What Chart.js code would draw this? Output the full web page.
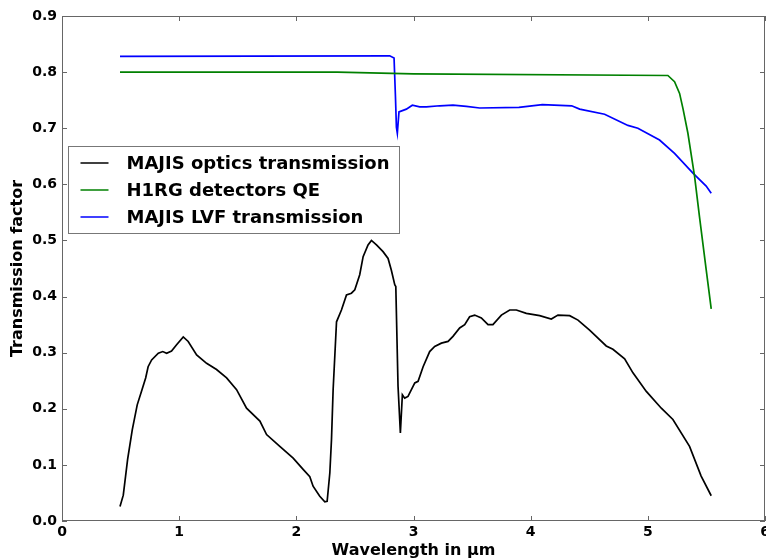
<!DOCTYPE html>
<html>
<head>
<meta charset="utf-8">
<style>
  html, body { margin: 0; padding: 0; background: #fff; }
  #wrap { width: 766px; height: 560px; }
</style>
</head>
<body>
<div id="wrap"><canvas id="chart" width="766" height="560"></canvas></div>
<script src="https://cdn.jsdelivr.net/npm/chart.js"></script>
<script>
// MAJIS optics transmission (wavelength in µm, transmission)
const opticsWl = [0.495, 0.523, 0.56, 0.60, 0.642, 0.68, 0.714, 0.735, 0.765, 0.822, 0.86, 0.893, 0.935, 0.978,
  1.035, 1.077, 1.149, 1.234, 1.319, 1.405, 1.49, 1.575, 1.689, 1.746, 1.859, 1.973, 2.058, 2.115, 2.143,
  2.20, 2.243, 2.263, 2.286, 2.30, 2.314, 2.343, 2.385, 2.428, 2.47, 2.499, 2.541, 2.57, 2.612, 2.641, 2.684,
  2.74, 2.783, 2.811, 2.84, 2.849, 2.868, 2.888, 2.905, 2.925, 2.953, 3.011, 3.039, 3.082, 3.138, 3.181,
  3.238, 3.295, 3.337, 3.394, 3.437, 3.479, 3.522, 3.579, 3.636, 3.678, 3.75, 3.821, 3.878, 3.963, 4.077,
  4.176, 4.233, 4.333, 4.404, 4.503, 4.645, 4.702, 4.802, 4.873, 4.987, 5.115, 5.214, 5.356, 5.455, 5.541];
const opticsT = [0.026, 0.046, 0.11, 0.163, 0.207, 0.232, 0.255, 0.275, 0.287, 0.299, 0.302, 0.299, 0.303, 0.314,
  0.328, 0.320, 0.296, 0.281, 0.270, 0.255, 0.234, 0.201, 0.178, 0.154, 0.133, 0.112, 0.092, 0.079, 0.062,
  0.044, 0.034, 0.035, 0.086, 0.145, 0.234, 0.355, 0.376, 0.403, 0.406, 0.412, 0.439, 0.471, 0.492, 0.500, 0.492,
  0.480, 0.468, 0.447, 0.421, 0.418, 0.240, 0.157, 0.225, 0.219, 0.222, 0.246, 0.249, 0.275, 0.302, 0.311,
  0.317, 0.320, 0.329, 0.344, 0.350, 0.364, 0.367, 0.362, 0.350, 0.350, 0.367, 0.376, 0.376, 0.370, 0.366,
  0.360, 0.367, 0.366, 0.358, 0.340, 0.312, 0.306, 0.289, 0.264, 0.231, 0.201, 0.181, 0.133, 0.080, 0.045];

// H1RG detectors QE
const detWl = [0.495, 2.35, 3.0, 5.171, 5.228, 5.271, 5.30, 5.342, 5.399, 5.441, 5.498, 5.541];
const detQE = [0.800, 0.800, 0.797, 0.794, 0.783, 0.762, 0.735, 0.691, 0.614, 0.542, 0.448, 0.378];

// MAJIS LVF transmission
const lvfWl = [0.495, 2.797, 2.834, 2.846, 2.854, 2.862, 2.876, 2.939, 2.99, 3.053, 3.11, 3.224, 3.337, 3.451,
  3.565, 3.9, 4.1, 4.35, 4.418, 4.631, 4.83, 4.915, 5.1, 5.228, 5.385, 5.498, 5.541];
const lvfT = [0.828, 0.829, 0.825, 0.756, 0.702, 0.691, 0.729, 0.734, 0.741, 0.738, 0.738, 0.740, 0.741, 0.739,
  0.736, 0.737, 0.742, 0.740, 0.734, 0.725, 0.705, 0.700, 0.679, 0.655, 0.620, 0.597, 0.584];

const seriesNames = ['MAJIS optics transmission', 'H1RG detectors QE', 'MAJIS LVF transmission'];
const seriesColors = ['#000000', '#008000', '#0000ff'];

const xTicks = [0, 1, 2, 3, 4, 5, 6];
const yTicks = [0, 0.1, 0.2, 0.3, 0.4, 0.5, 0.6, 0.7, 0.8, 0.9];
const yTickLabels = ['0.0', '0.1', '0.2', '0.3', '0.4', '0.5', '0.6', '0.7', '0.8', '0.9'];

const FONT = '"DejaVu Sans", sans-serif';

function toPoints(xs, ys) {
  return xs.map((x, i) => ({ x: x, y: ys[i] }));
}

// frame with inward ticks on all four sides, plus the boxed legend
const framePlugin = {
  id: 'frame',
  afterDatasetsDraw(chart) {
    const { ctx, chartArea: a, scales: { x, y } } = chart;
    ctx.save();
    ctx.strokeStyle = '#666';
    ctx.lineWidth = 1;
    ctx.strokeRect(a.left + 0.5, a.top + 0.5, a.width - 1, a.height - 1);
    ctx.beginPath();
    xTicks.forEach(v => {
      const px = Math.round(x.getPixelForValue(v)) + 0.5;
      ctx.moveTo(px, a.bottom); ctx.lineTo(px, a.bottom - 5);
      ctx.moveTo(px, a.top); ctx.lineTo(px, a.top + 5);
    });
    yTicks.forEach(v => {
      const py = Math.round(y.getPixelForValue(v)) + 0.5;
      ctx.moveTo(a.left, py); ctx.lineTo(a.left + 5, py);
      ctx.moveTo(a.right, py); ctx.lineTo(a.right - 5, py);
    });
    ctx.stroke();

    // legend
    const lx = a.left + 6.5, ly = a.top + 130.5, lw = 331, lh = 87;
    ctx.fillStyle = '#fff';
    ctx.fillRect(lx, ly, lw, lh);
    ctx.strokeStyle = '#777';
    ctx.strokeRect(lx, ly, lw, lh);
    ctx.font = 'bold 18px ' + FONT;
    ctx.textBaseline = 'middle';
    ctx.textAlign = 'left';
    seriesNames.forEach((name, i) => {
      const ry = ly + 16.5 + i * 27;
      ctx.strokeStyle = seriesColors[i];
      ctx.lineWidth = 1.5;
      ctx.beginPath();
      ctx.moveTo(lx + 12, ry); ctx.lineTo(lx + 40, ry);
      ctx.stroke();
      ctx.fillStyle = '#000';
      ctx.fillText(name, lx + 58, ry + 1);
    });
    ctx.restore();
  }
};

const ctx = document.getElementById('chart').getContext('2d');
new Chart(ctx, {
  type: 'line',
  data: {
    datasets: [
      { label: seriesNames[0], data: toPoints(opticsWl, opticsT), borderColor: seriesColors[0] },
      { label: seriesNames[1], data: toPoints(detWl, detQE), borderColor: seriesColors[1] },
      { label: seriesNames[2], data: toPoints(lvfWl, lvfT), borderColor: seriesColors[2] }
    ]
  },
  options: {
    responsive: false,
    animation: false,
    layout: { padding: { top: 16, right: 1, left: 0, bottom: 0 } },
    elements: {
      point: { radius: 0 },
      line: { borderWidth: 1.7, tension: 0, fill: false }
    },
    plugins: {
      legend: { display: false },
      tooltip: { enabled: false }
    },
    scales: {
      x: {
        type: 'linear',
        min: 0,
        max: 6,
        grid: { display: false, drawTicks: false },
        border: { display: false },
        afterBuildTicks: s => { s.ticks = xTicks.map(v => ({ value: v })); },
        ticks: {
          color: '#000',
          padding: 3,
          maxRotation: 0,
          font: { family: FONT, size: 14, weight: 'bold' },
          callback: v => String(v)
        },
        title: {
          display: true,
          text: 'Wavelength in µm',
          color: '#000',
          padding: { top: 0, bottom: 0 },
          font: { family: FONT, size: 16, weight: 'bold' }
        },
        afterFit: s => { s.height = 39; s.paddingRight = 0; s.paddingLeft = 0; }
      },
      y: {
        type: 'linear',
        min: 0,
        max: 0.9,
        grid: { display: false, drawTicks: false },
        border: { display: false },
        afterBuildTicks: s => { s.ticks = yTicks.map(v => ({ value: v })); },
        ticks: {
          color: '#000',
          padding: 5,
          font: { family: FONT, size: 14, weight: 'bold' },
          callback: (v, i) => yTickLabels[i]
        },
        title: {
          display: true,
          text: 'Transmission factor',
          color: '#000',
          padding: { top: 8, bottom: 0 },
          font: { family: FONT, size: 16, weight: 'bold' }
        },
        afterFit: s => { s.width = 62; s.paddingTop = 0; s.paddingBottom = 0; }
      }
    }
  },
  plugins: [framePlugin]
});
</script>
</body>
</html>
